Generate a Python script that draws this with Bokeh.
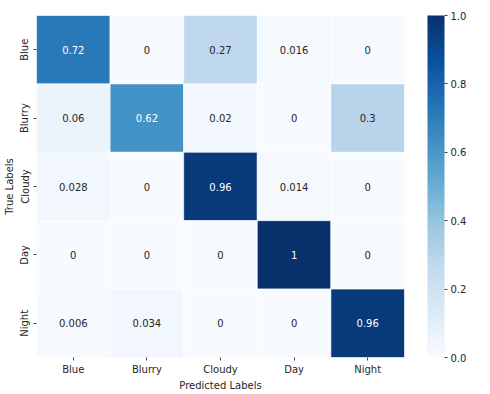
import math
from bokeh.plotting import figure
from bokeh.models import (ColumnDataSource, LinearColorMapper, ColorBar,
                          FixedTicker, PrintfTickFormatter, FactorRange)
from bokeh.palettes import Blues256
from bokeh.core.properties import value
from bokeh.embed import file_html
from bokeh.resources import INLINE

classes = ["Blue", "Blurry", "Cloudy", "Day", "Night"]
row_blue = [0.72, 0.0, 0.27, 0.016, 0.0]
row_blurry = [0.06, 0.62, 0.02, 0.0, 0.3]
row_cloudy = [0.028, 0.0, 0.96, 0.014, 0.0]
row_day = [0.0, 0.0, 0.0, 1.0, 0.0]
row_night = [0.006, 0.034, 0.0, 0.0, 0.96]
cbar_ticks = [0.0, 0.2, 0.4, 0.6, 0.8, 1.0]

rows = [row_blue, row_blurry, row_cloudy, row_day, row_night]
xs, ys, vals, labels, tcolors = [], [], [], [], []
for t, r in zip(classes, rows):
    for pcls, v in zip(classes, r):
        xs.append(pcls)
        ys.append(t)
        vals.append(v)
        labels.append(format(v, ".2g"))
        tcolors.append("white" if v > 0.5 else "#262626")

src = ColumnDataSource(dict(x=xs, y=ys, v=vals, lab=labels, tc=tcolors))
mapper = LinearColorMapper(palette=list(reversed(Blues256)), low=0, high=1)

p = figure(x_range=FactorRange(*classes), y_range=FactorRange(*reversed(classes)),
           frame_width=368, frame_height=342, output_backend="svg",
           toolbar_location=None, min_border_top=15, min_border_left=0,
           min_border_right=0, min_border_bottom=0)
p.rect(x="x", y="y", width=1, height=1, source=src,
       fill_color={"field": "v", "transform": mapper},
       line_color="white", line_width=0.6)
p.text(x="x", y="y", text="lab", source=src, text_color="tc",
       text_align="center", text_baseline="middle", text_font_size="10px",
       text_font=value("DejaVu Sans"))

p.grid.visible = False
p.outline_line_color = None
for ax in (p.xaxis, p.yaxis):
    ax.axis_line_color = None
    ax.major_tick_out = 3
    ax.major_tick_in = 0
    ax.major_tick_line_color = "#444444"
    ax.major_label_text_font = "DejaVu Sans"
    ax.major_label_text_font_size = "10px"
    ax.major_label_text_color = "#262626"
    ax.axis_label_text_font = "DejaVu Sans"
    ax.axis_label_text_font_size = "10px"
    ax.axis_label_text_font_style = "normal"
    ax.axis_label_text_color = "#262626"
    ax.major_label_standoff = 3
    ax.axis_label_standoff = 2
p.xaxis.axis_label = "Predicted Labels"
p.yaxis.axis_label = "True Labels"
p.yaxis.major_label_orientation = "vertical"

cb = ColorBar(color_mapper=mapper, ticker=FixedTicker(ticks=cbar_ticks),
              formatter=PrintfTickFormatter(format="%.1f"), width=17, height=342,
              padding=0, margin=0, major_tick_in=0, major_tick_out=3,
              major_tick_line_color="#444444", label_standoff=3,
              major_label_text_font="DejaVu Sans",
              major_label_text_font_size="10px",
              major_label_text_color="#262626",
              bar_line_color=None, border_line_color=None,
              location=(23, 0))
p.add_layout(cb, "right")

open("out.html", "w").write(file_html(p, INLINE))
